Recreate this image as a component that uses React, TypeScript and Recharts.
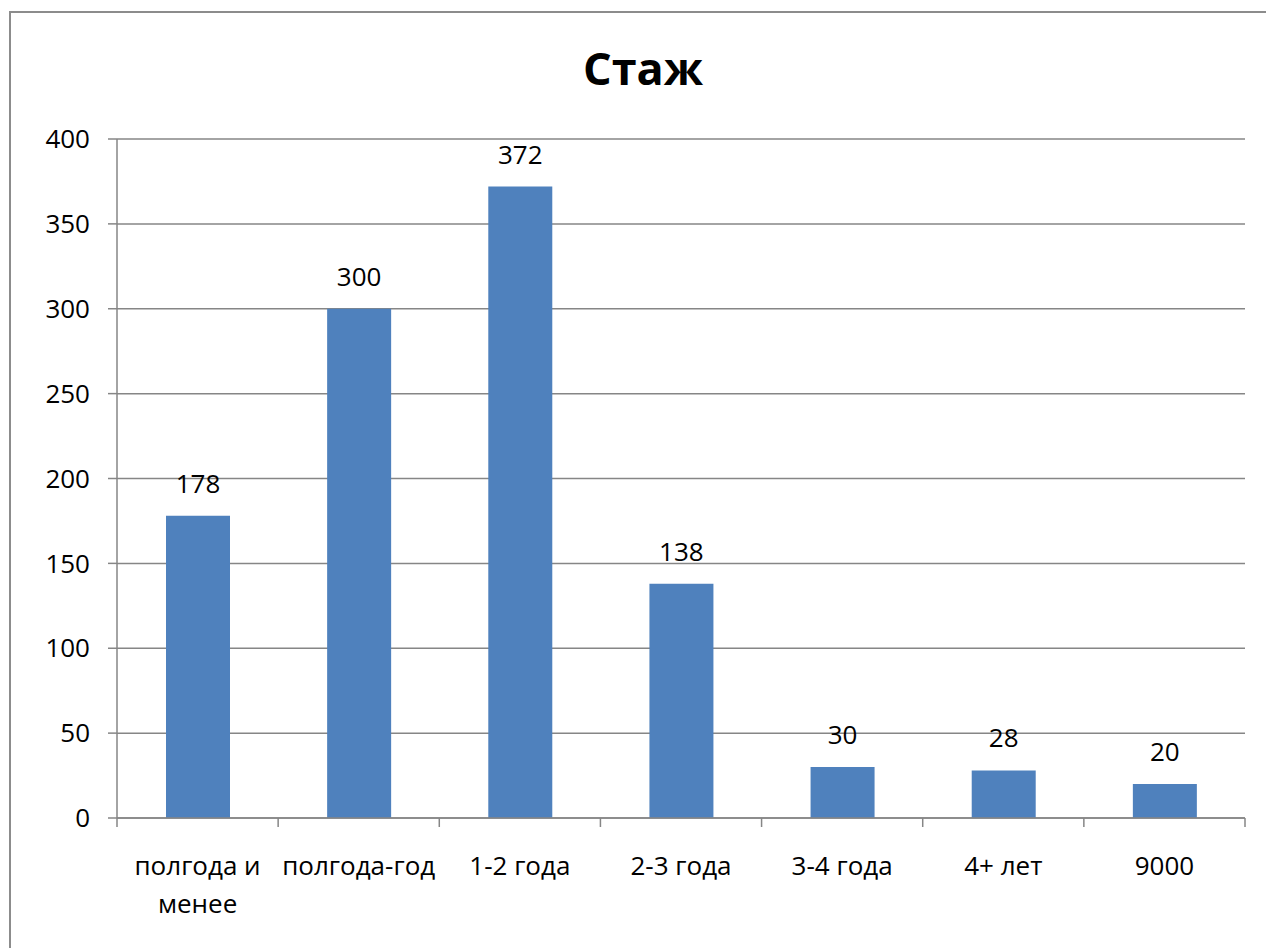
import React from "react";
import {
  BarChart,
  Bar,
  XAxis,
  YAxis,
  CartesianGrid,
  LabelList,
} from "recharts";

const title = "Стаж";
const categories = [
  "полгода и менее",
  "полгода-год",
  "1-2 года",
  "2-3 года",
  "3-4 года",
  "4+ лет",
  "9000",
];
const values = [178, 300, 372, 138, 30, 28, 20];
const yTicks = [0, 50, 100, 150, 200, 250, 300, 350, 400];

const data = categories.map((c, i) => ({ name: c, value: values[i] }));

const FONT = "'Open Sans', 'DejaVu Sans', sans-serif";
const GRID = "#868686";
const BAR = "#4F81BD";
const FS = 26;
const MAX_CHARS = 11;

function wrap(s: string): string[] {
  const words = s.split(" ");
  const lines: string[] = [];
  let cur = "";
  for (const w of words) {
    const next = cur ? cur + " " + w : w;
    if (next.length > MAX_CHARS && cur) {
      lines.push(cur);
      cur = w;
    } else {
      cur = next;
    }
  }
  if (cur) lines.push(cur);
  return lines;
}

const CatTick = (props: any) => {
  const { x, y, payload, index, visibleTicksCount } = props;
  const lines = wrap(String(payload.value));
  const half = typeof payload.offset === "number" ? payload.offset : 0;
  const isLast = index === visibleTicksCount - 1;
  return (
    <g>
      {half > 0 && (
        <line
          x1={x - half}
          x2={x - half}
          y1={y}
          y2={y + 9}
          stroke={GRID}
          strokeWidth={1.5}
        />
      )}
      {half > 0 && isLast && (
        <line
          x1={x + half}
          x2={x + half}
          y1={y}
          y2={y + 9}
          stroke={GRID}
          strokeWidth={1.5}
        />
      )}
      <text
        x={x}
        y={y + 57}
        textAnchor="middle"
        fontSize={FS}
        fontFamily={FONT}
        fill="#000"
      >
        {lines.map((l, i) => (
          <tspan key={i} x={x} dy={i === 0 ? 0 : 38}>
            {l}
          </tspan>
        ))}
      </text>
    </g>
  );
};

export default function App() {
  return (
    <div
      style={{
        position: "fixed",
        left: 0,
        top: 0,
        width: 1266,
        height: 948,
        overflow: "hidden",
        background: "#fff",
      }}
    >
      <div
        style={{
          position: "absolute",
          left: 9,
          top: 11,
          width: 1320,
          height: 1000,
          border: "2px solid #8c8c8c",
          boxSizing: "border-box",
        }}
      />
      <svg
        width={1266}
        height={120}
        style={{ position: "absolute", left: 0, top: 0 }}
      >
        <text
          x={643}
          y={85}
          textAnchor="middle"
          fontFamily={FONT}
          fontWeight="bold"
          fontSize={45}
          fill="#000"
        >
          {title}
        </text>
      </svg>
      <div style={{ position: "absolute", left: 0, top: 0 }}>
        <BarChart
          width={1266}
          height={948}
          data={data}
          margin={{ top: 139, right: 21, left: 37, bottom: 50 }}
          barSize={64}
        >
          <CartesianGrid
            vertical={false}
            stroke={GRID}
            strokeWidth={1.5}
            yAxisId="y"
            xAxisId="cat"
          />
          <XAxis
            xAxisId="cat"
            dataKey="name"
            type="category"
            height={80}
            axisLine={{ stroke: GRID, strokeWidth: 1.5 }}
            tickLine={false}
            tickSize={0}
            tickMargin={0}
            interval={0}
            tick={<CatTick />}
          />
          <YAxis
            yAxisId="y"
            domain={[0, 400]}
            ticks={yTicks}
            width={80}
            tickSize={9}
            tickMargin={18}
            axisLine={{ stroke: GRID, strokeWidth: 1.5 }}
            tickLine={{ stroke: GRID, strokeWidth: 1.5 }}
            tick={{ fontSize: FS, fontFamily: FONT, fill: "#000" }}
            allowDataOverflow
          />
          <Bar
            dataKey="value"
            xAxisId="cat"
            yAxisId="y"
            fill={BAR}
            isAnimationActive={false}
          >
            <LabelList
              dataKey="value"
              position="top"
              offset={23}
              fontSize={FS}
              fontFamily={FONT}
              fill="#000"
            />
          </Bar>
        </BarChart>
      </div>
    </div>
  );
}
